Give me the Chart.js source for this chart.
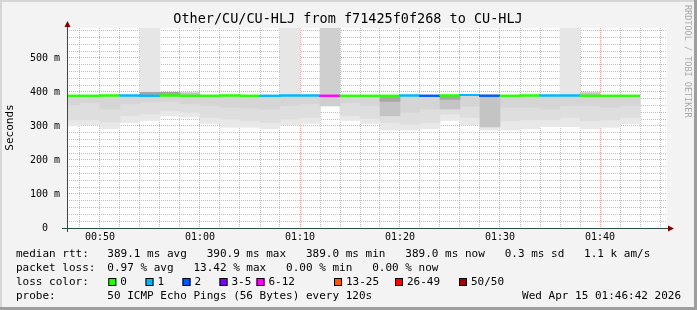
<!DOCTYPE html>
<html>
<head>
<meta charset="utf-8">
<script src="https://cdn.jsdelivr.net/npm/chart.js@4.4.1/dist/chart.umd.min.js"></script>
<style>
html,body{margin:0;padding:0;background:#f3f3f3}
canvas{display:block}
</style>
</head>
<body>
<canvas id="c" width="697" height="310"></canvas>
<script>
// SmokePing style latency graph, 2 minute bins

const binTimes = ['00:46','00:48','00:50','00:52','00:54','00:56','00:58','01:00','01:02','01:04',
  '01:06','01:08','01:10','01:12','01:14','01:16','01:18','01:20','01:22','01:24',
  '01:26','01:28','01:30','01:32','01:34','01:36','01:38','01:40','01:42'];

// median rtt per bin (ms)
const medianMs = [389.2,389.0,389.1,389.3,389.6,389.0,389.4,389.1,389.0,389.2,
  389.1,389.0,389.3,389.5,389.0,389.1,388.8,389.0,389.4,389.0,
  389.2,390.9,389.1,389.0,389.2,389.3,389.5,389.0,389.0];
// lost pings out of 50 per bin
const lostPings = [0,0,0,1,1,0,0,0,0,0, 1,1,1,7,0,0,0,1,2,0, 1,2,0,0,1,1,0,0,0];

// smoke: spread of the 50 pings per bin (ms)
const smokeMin  = [300,303,292,310,316,329,326,307,296,296, 292,303,307,359,316,307,288,288,292,316, 303,288,288,292,298,298,292,296,306];
const smokeLow  = [318,318,312,330,335,345,340,325,320,315, 310,320,325,null,330,322,310,305,310,335, 325,295,315,318,318,325,315,318,325];
const smokeHigh = [362,368,350,365,370,372,365,360,355,352, 350,360,365,null,368,360,355,340,350,362, 358,320,355,355,350,360,360,355,360];
const smokeMax  = [389.5,389.5,389.5,389.5,389.5,389.5,389.5,389.5,389.5,389.5, 389.5,389.5,389.5,389.5,389.5,389.5,389.5,389.5,389.5,389.5, 389.5,391,389.5,389.5,389.5,389.5,389.5,389.5,389.5];
// denser clusters of pings
const denseLo = [null,null,null,null,null,null,389,null,null,null, null,null,null,null,null,null,330,null,null,350, null,298,null,null,null,null,389,null,null];
const denseHi = [null,null,null,null,null,null,398,null,null,null, null,null,null,null,null,null,389,null,null,389, null,391,null,null,null,null,398,null,null];
const coreLo  = [null,null,null,null,389,389,null,null,null,null, null,null,null,null,null,null,372,null,null,378, null,null,null,null,null,null,null,null,null];
const coreHi  = [null,null,null,null,399,399,null,null,null,null, null,null,null,null,null,null,389,null,null,389, null,null,null,null,null,null,null,null,null];
// slow pings going off the top of the graph
const spikeLo = [null,null,null,null,389,null,null,null,null,null, null,389,null,null,null,null,null,null,null,null, null,null,null,null,null,389,null,null,null];
const spikeHi = [null,null,null,null,620,null,null,null,null,null, null,620,null,null,null,null,null,null,null,null, null,null,null,null,null,620,null,null,null];
const spikeDenseLo = [null,null,null,null,null,null,null,null,null,null, null,null,null,359,null,null,null,null,null,null, null,null,null,null,null,null,null,null,null];
const spikeDenseHi = [null,null,null,null,null,null,null,null,null,null, null,null,null,620,null,null,null,null,null,null, null,null,null,null,null,null,null,null,null];

const lossFrom = [0,1,2,3,6,13,26,50];
const lossLabels = ['0','1','2','3-5','6-12','13-25','26-49','50/50'];
const lossColors = ['#26ff00','#00b8ff','#0059ff','#7e00ff','#ff00ff','#ff5500','#ff0000','#a10000'];

const yTicks = [];
for (let v = 0; v <= 580; v += 20) yTicks.push(v);
const xTicks = [];
for (let v = 48; v <= 106; v += 2) xTicks.push(v);

const titleText = 'Other/CU/CU-HLJ from f71425f0f268 to CU-HLJ';
const legendRows = [
  ['median rtt:', '389.1 ms avg   390.9 ms max   389.0 ms min   389.0 ms now   0.3 ms sd   1.1 k am/s'],
  ['packet loss:', '0.97 % avg   13.42 % max   0.00 % min   0.00 % now'],
  ['loss color:', ''],
  ['probe:', '50 ICMP Echo Pings (56 Bytes) every 120s']
];
const stampText = 'Wed Apr 15 01:46:42 2026';

function toMin(t){ const [h,m] = t.split(':').map(Number); return h*60+m; }
function fmtMin(v){ return String(Math.floor(v/60)).padStart(2,'0') + ':' + String(v%60).padStart(2,'0'); }
function lossIdx(n){ let k = 0; lossFrom.forEach((f,i)=>{ if(n >= f) k = i; }); return k; }

const binStart = binTimes.map(toMin);
const binMid = binStart.map(m => m + 1);
const xFrom = toMin('00:46') + 42/60, xTo = toMin('01:46') + 42/60;

const medianPts = binStart.map((x,i)=>({x, y: medianMs[i]}));
medianPts.push({x: binStart[binStart.length-1] + 2, y: medianMs[medianMs.length-1]});

function band(lo, hi, color, order){
  const pts = [];
  binMid.forEach((x,i)=>{ if(lo[i] != null && hi[i] != null) pts.push({x, y:[lo[i], hi[i]]}); });
  return {type:'bar', data:pts, backgroundColor:color, borderWidth:0, grouped:false,
    barPercentage:1, categoryPercentage:1, clip:0, order};
}

const FONT = '"DejaVu Sans Mono", monospace';

const decor = {
  id: 'decor',
  beforeDraw(chart){
    const {ctx, chartArea:a} = chart;
    ctx.save();
    ctx.fillStyle = '#f3f3f3'; ctx.fillRect(0,0,697,310);
    ctx.fillStyle = '#d6d6d6'; ctx.fillRect(0,0,697,2); ctx.fillRect(0,0,2,310);
    ctx.fillStyle = '#9e9e9e'; ctx.fillRect(0,307,697,3); ctx.fillRect(694,0,3,310);
    ctx.fillStyle = '#ffffff'; ctx.fillRect(a.left, a.top, a.right-a.left, a.bottom-a.top);
    ctx.restore();
  },
  afterDraw(chart){
    const {ctx, chartArea:a} = chart;
    // median line on top of the grid
    ctx.save();
    ctx.beginPath(); ctx.rect(a.left, a.top, a.right-a.left, a.bottom-a.top); ctx.clip();
    chart.getDatasetMeta(0).controller.draw();
    ctx.restore();

    ctx.save();
    // axes with arrows
    ctx.strokeStyle = '#2c4d43'; ctx.lineWidth = 1;
    ctx.beginPath();
    ctx.moveTo(a.left-5, a.bottom+0.5); ctx.lineTo(a.right+3, a.bottom+0.5);
    ctx.moveTo(a.left+0.5, a.bottom+4); ctx.lineTo(a.left+0.5, a.top-3);
    ctx.stroke();
    ctx.fillStyle = '#7f0000';
    ctx.beginPath();
    ctx.moveTo(a.right+7, a.bottom+0.5); ctx.lineTo(a.right+1, a.bottom-2.5); ctx.lineTo(a.right+1, a.bottom+3.5); ctx.closePath(); ctx.fill();
    ctx.beginPath();
    ctx.moveTo(a.left+0.5, a.top-7); ctx.lineTo(a.left-2.5, a.top-1); ctx.lineTo(a.left+3.5, a.top-1); ctx.closePath(); ctx.fill();

    ctx.fillStyle = '#000';
    ctx.textBaseline = 'middle';
    ctx.font = '13.5px ' + FONT;
    ctx.textAlign = 'center';
    ctx.fillText(titleText, 348, 19.5);

    // y axis title
    ctx.save();
    ctx.font = '11px ' + FONT;
    ctx.translate(10, 127.5); ctx.rotate(-Math.PI/2);
    ctx.fillText('Seconds', 0, 0);
    ctx.restore();

    // watermark
    ctx.save();
    ctx.font = '8.5px ' + FONT;
    ctx.fillStyle = '#a8a8a8';
    ctx.textAlign = 'left';
    ctx.translate(687.5, 5); ctx.rotate(Math.PI/2);
    ctx.fillText('RRDTOOL / TOBI OETIKER', 0, 0);
    ctx.restore();

    // legend block
    ctx.font = '11px ' + FONT;
    ctx.textAlign = 'left';
    const rowY = [254, 268, 282, 296.5];
    legendRows.forEach((r,i)=>{
      ctx.fillText(r[0], 16, rowY[i]);
      if (r[1]) ctx.fillText(r[1], 107.3, rowY[i]);
    });
    const boxX = [108.3,145.5,182.5,219.5,256.5,334,395,459];
    lossLabels.forEach((t,i)=>{
      ctx.fillStyle = lossColors[i];
      ctx.fillRect(boxX[i], 278, 8, 8);
      ctx.strokeStyle = '#000';
      ctx.strokeRect(boxX[i]+0.5, 278.5, 7, 7);
      ctx.fillStyle = '#000';
      ctx.fillText(t, boxX[i]+12, rowY[2]);
    });
    ctx.textAlign = 'right';
    ctx.fillText(stampText, 681, rowY[3]);
    ctx.restore();
  }
};

new Chart(document.getElementById('c'), {
  type: 'bar',
  data: {
    datasets: [
      {type:'line', data:medianPts, stepped:'after', borderWidth:2, pointRadius:0,
        borderColor: lossColors[0], clip:0, order:0,
        segment:{ borderColor: c => lossColors[lossIdx(lostPings[Math.min(c.p0DataIndex, lostPings.length-1)])] }},
      band(coreLo, coreHi, '#a6a6a6', 1),
      band(denseLo, denseHi, '#c4c4c4', 2),
      band(spikeDenseLo, spikeDenseHi, '#cfcfcf', 3),
      band(smokeHigh, smokeMax, '#d5d5d5', 4),
      band(smokeLow, smokeMax, '#dedede', 5),
      band(smokeMin, smokeMax, '#e8e8e8', 6),
      band(spikeLo, spikeHi, '#e6e6e6', 7)
    ]
  },
  options: {
    responsive: false,
    devicePixelRatio: 1,
    animation: false,
    events: [],
    layout: { padding: {left:0, right:30, top:28, bottom:0} },
    plugins: { legend:{display:false}, tooltip:{enabled:false} },
    scales: {
      x: {
        type: 'linear', min: xFrom, max: xTo, offset: false, z: 1,
        afterBuildTicks: s => { s.ticks = xTicks.map(v => ({value:v})); },
        afterFit: s => { s.height = 82; },
        grid: { offset:false, drawTicks:false, lineWidth:1,
          color: c => (c.tick && c.tick.value % 10 === 0) ? 'rgba(224,80,80,0.55)' : 'rgba(170,170,170,0.75)' },
        border: { display:false, dash:[1,1] },
        ticks: { autoSkip:false, maxRotation:0, padding:3, color:'#000',
          font:{family:FONT, size:10},
          callback: v => v % 10 === 0 ? fmtMin(v) : '' }
      },
      y: {
        type: 'linear', min: 0, max: 588, z: 1,
        afterBuildTicks: s => { s.ticks = yTicks.map(v => ({value:v})); },
        afterFit: s => { s.width = 67; },
        grid: { drawTicks:false, lineWidth:1,
          color: c => (c.tick && c.tick.value % 100 === 0) ? 'rgba(224,80,80,0.55)' : 'rgba(170,170,170,0.75)' },
        border: { display:false, dash:[1,1] },
        ticks: { autoSkip:false, padding:7, color:'#000', font:{family:FONT, size:10},
          callback: v => v % 100 !== 0 ? '' : (v === 0 ? '0  ' : v + ' m') }
      }
    }
  },
  plugins: [decor]
});
</script>
</body>
</html>
